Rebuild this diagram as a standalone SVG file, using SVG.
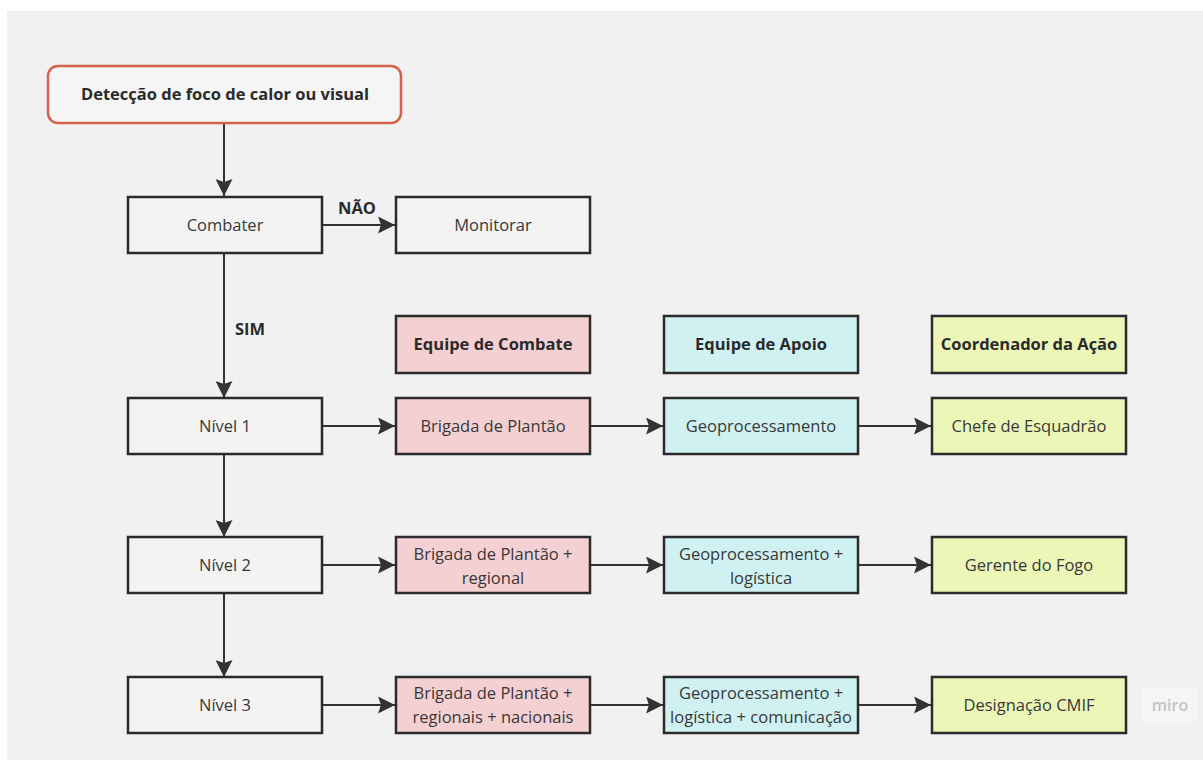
<svg xmlns="http://www.w3.org/2000/svg" width="1203" height="760" viewBox="0 0 1203 760">
<style>
  text { font-family: "Open Sans", "Noto Sans", "Liberation Sans", sans-serif; font-size: 16.5px; fill: #383838; text-anchor: middle; }
  .b { font-weight: bold; fill: #2a2a2a; }
  .box { stroke: #2b2b2b; stroke-width: 2.5; }
  .white { fill: #f3f3f3; }
  .pink { fill: #f5d0d2; }
  .cyan { fill: #cff1f2; }
  .yel { fill: #ebf6b7; }
  .conn { stroke: #333333; stroke-width: 2; fill: none; marker-end: url(#arr); }
</style>
<defs>
  <marker id="arr" markerUnits="userSpaceOnUse" markerWidth="17" markerHeight="17" viewBox="0 0 17 17" refX="17" refY="8.5" orient="auto">
    <path d="M0,0 L17,8.5 L0,17 L3,8.5 z" fill="#333333"/>
  </marker>
</defs>
<rect x="0" y="0" width="1203" height="760" fill="#ffffff"/>
<rect x="7" y="11" width="1196" height="749" fill="#f1f1f1"/>

<g id="connectors">
  <line class="conn" x1="224" y1="124" x2="224" y2="196"/>
  <line class="conn" x1="322" y1="225" x2="395" y2="225"/>
  <line class="conn" x1="224" y1="254" x2="224" y2="398"/>
  <line class="conn" x1="224" y1="455" x2="224" y2="537"/>
  <line class="conn" x1="224" y1="594" x2="224" y2="677"/>
  <line class="conn" x1="323" y1="426" x2="395" y2="426"/>
  <line class="conn" x1="591" y1="426" x2="663" y2="426"/>
  <line class="conn" x1="859" y1="426" x2="931" y2="426"/>
  <line class="conn" x1="323" y1="565" x2="395" y2="565"/>
  <line class="conn" x1="591" y1="565" x2="663" y2="565"/>
  <line class="conn" x1="859" y1="565" x2="931" y2="565"/>
  <line class="conn" x1="323" y1="705" x2="395" y2="705"/>
  <line class="conn" x1="591" y1="705" x2="663" y2="705"/>
  <line class="conn" x1="859" y1="705" x2="931" y2="705"/>
  <text class="b" x="357" y="214">NÃO</text>
  <text class="b" x="250" y="335">SIM</text>
</g>

<g id="deteccao">
  <rect x="48" y="66" width="353" height="57" rx="10" fill="#f5f5f5" stroke="#d9604a" stroke-width="2.5"/>
  <text class="b" x="225" y="100">Detecção de foco de calor ou visual</text>
</g>
<g id="combater">
  <rect class="box white" x="128" y="197" width="194" height="56"/>
  <text x="225" y="231">Combater</text>
</g>
<g id="monitorar">
  <rect class="box white" x="396" y="197" width="194" height="56"/>
  <text x="493" y="231">Monitorar</text>
</g>

<g id="equipe-combate">
  <rect class="box pink" x="396" y="316" width="194" height="57"/>
  <text class="b" x="493" y="350">Equipe de Combate</text>
</g>
<g id="equipe-apoio">
  <rect class="box cyan" x="664" y="316" width="194" height="57"/>
  <text class="b" x="761" y="350">Equipe de Apoio</text>
</g>
<g id="coordenador">
  <rect class="box yel" x="932" y="316" width="194" height="57"/>
  <text class="b" x="1029" y="350">Coordenador da Ação</text>
</g>

<g id="nivel1">
  <rect class="box white" x="128" y="398" width="194" height="56"/>
  <text x="225" y="432">Nível 1</text>
</g>
<g id="brigada1">
  <rect class="box pink" x="396" y="398" width="194" height="56"/>
  <text x="493" y="432">Brigada de Plantão</text>
</g>
<g id="geo1">
  <rect class="box cyan" x="664" y="398" width="194" height="56"/>
  <text x="761" y="432">Geoprocessamento</text>
</g>
<g id="chefe">
  <rect class="box yel" x="932" y="398" width="194" height="56"/>
  <text x="1029" y="432">Chefe de Esquadrão</text>
</g>

<g id="nivel2">
  <rect class="box white" x="128" y="537" width="194" height="56"/>
  <text x="225" y="571">Nível 2</text>
</g>
<g id="brigada2">
  <rect class="box pink" x="396" y="537" width="194" height="56"/>
  <text x="493" y="560">Brigada de Plantão +</text>
  <text x="493" y="584">regional</text>
</g>
<g id="geo2">
  <rect class="box cyan" x="664" y="537" width="194" height="56"/>
  <text x="761" y="560">Geoprocessamento +</text>
  <text x="761" y="584">logística</text>
</g>
<g id="gerente">
  <rect class="box yel" x="932" y="537" width="194" height="56"/>
  <text x="1029" y="571">Gerente do Fogo</text>
</g>

<g id="nivel3">
  <rect class="box white" x="128" y="677" width="194" height="56"/>
  <text x="225" y="711">Nível 3</text>
</g>
<g id="brigada3">
  <rect class="box pink" x="396" y="677" width="194" height="56"/>
  <text x="493" y="699">Brigada de Plantão +</text>
  <text x="493" y="723">regionais + nacionais</text>
</g>
<g id="geo3">
  <rect class="box cyan" x="664" y="677" width="194" height="56"/>
  <text x="761" y="699">Geoprocessamento +</text>
  <text x="761" y="723">logística + comunicação</text>
</g>
<g id="designacao">
  <rect class="box yel" x="932" y="677" width="194" height="56"/>
  <text x="1029" y="711">Designação CMIF</text>
</g>

<g id="watermark">
  <rect x="1142" y="688" width="56" height="34" rx="3" fill="#f5f5f5"/>
  <text x="1170" y="711" style="font-size:16px; fill:#c4c4c4; font-weight:600;">miro</text>
</g>
</svg>
